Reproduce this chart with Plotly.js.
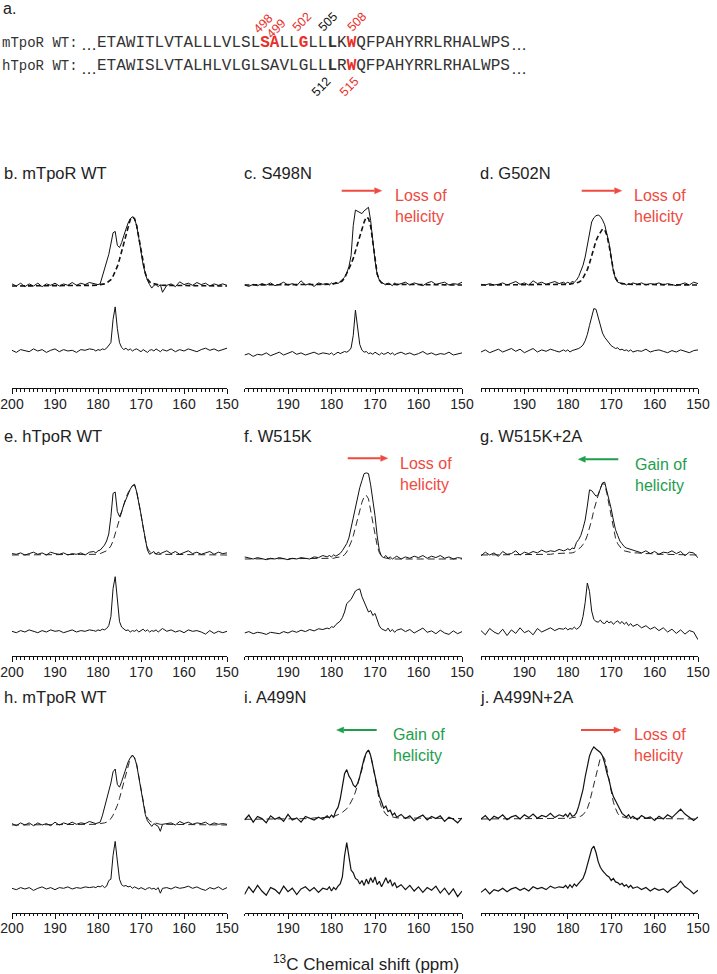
<!DOCTYPE html>
<html><head><meta charset="utf-8">
<script src="https://cdn.plot.ly/plotly-3.0.1.min.js"></script>
<style>html,body{margin:0;padding:0;background:#fff;}#chart{width:717px;height:974px;}</style>
</head><body><div id="chart"></div>
<script>
// ---------- DATA ----------
const ppm = [200,199,198,197,196,195,194,193,192,191,190,189,188,187,186,185,184,183,182,181,
 180.5,180,179.5,179,178.5,178,177.5,177,176.5,176,175.5,175,174.5,174,173.5,173,172.5,172,171.5,171,170.5,170,169.5,169,168.5,168,167.5,167,166.5,166,165.5,165,
 164,163,162,161,160,159,158,157,156,155,154,153,152,151,150];

const panelTitles = ['b. mTpoR WT','c. S498N','d. G502N','e. hTpoR WT','f. W515K','g. W515K+2A','h. mTpoR WT','i. A499N','j. A499N+2A'];
const trendLabels = ['', 'Loss of<br>helicity', 'Loss of<br>helicity', '', 'Loss of<br>helicity', 'Gain of<br>helicity', '', 'Gain of<br>helicity', 'Loss of<br>helicity'];
const tickValsFull = [200,190,180,170,160,150];
const tickValsShort = [190,180,170,160,150];
const xTitle = '<sup>13</sup>C Chemical shift (ppm)';

// b. mTpoR WT
const b_upper = [0.03,0.00,0.04,-0.01,0.03,0.00,0.04,-0.01,0.03,0.01,0.04,0.00,0.03,0.01,0.05,0.01,0.04,0.02,0.05,0.03,
 0.03,0.02,0.03,0.14,0.24,0.33,0.45,0.60,0.76,0.78,0.58,0.55,0.62,0.72,0.82,0.90,0.96,0.99,0.96,0.86,0.68,0.48,0.30,0.18,0.08,0.02,-0.03,0.01,0.02,-0.01,0.02,-0.09,
 0.01,0.03,-0.01,0.06,0.02,0.04,0.01,0.05,0.02,0.04,0.00,0.03,0.01,0.03,0.01];
const b_fit = [0,0,0,0,0,0,0,0,0,0,0,0,0,0,0,0,0.01,0.01,0.01,0.01,
 0.01,0.01,0.02,0.02,0.03,0.04,0.06,0.09,0.14,0.20,0.28,0.38,0.50,0.63,0.75,0.86,0.95,0.99,0.96,0.86,0.68,0.48,0.30,0.18,0.10,0.06,0.04,0.03,0.02,0.02,0.01,0.01,
 0.01,0.01,0.01,0,0,0,0,0,0,0,0,0,0,0,0];
const b_lower = [0.01,-0.02,0.02,0.00,-0.01,0.03,0.00,0.02,-0.02,0.01,0.03,-0.01,0.02,0.00,0.01,-0.02,0.02,0.01,0.03,0.02,
 0.00,0.02,0.01,0.03,0.02,0.04,0.08,0.12,0.45,0.63,0.32,0.12,0.05,0.02,0.04,0.01,0.03,0.00,0.02,0.03,0.01,-0.01,0.02,0.00,-0.02,0.01,0.02,0.00,0.03,0.01,-0.01,0.02,
 0.00,0.03,-0.01,0.02,0.00,0.03,0.01,-0.01,0.02,0.04,0.01,0.03,0.00,0.02,0.04];

// c. S498N
const c_upper = [0.00,-0.02,0.01,-0.01,0.02,0.00,0.03,-0.01,0.01,0.04,0.00,0.02,-0.01,0.06,0.00,0.02,-0.02,0.03,0.01,0.02,
 0.00,0.03,0.01,0.04,0.02,0.05,0.07,0.11,0.17,0.26,0.42,0.85,1.07,1.05,1.04,1.02,1.06,1.09,1.11,0.92,0.62,0.35,0.15,0.07,0.04,0.02,0.00,0.03,0.01,-0.01,0.03,0.00,
 0.02,0.04,0.00,0.03,0.01,-0.01,0.03,0.05,0.01,0.02,0.04,0.00,0.02,0.01,0.04];
const c_fit = [0,0,0,0,0,0,0,0,0,0,0,0,0,0,0,0,0,0,0,0,
 0.01,0.01,0.02,0.02,0.03,0.04,0.06,0.10,0.16,0.23,0.30,0.38,0.48,0.59,0.71,0.81,0.90,0.97,0.95,0.84,0.60,0.35,0.16,0.07,0.03,0.02,0.01,0.01,0.01,0.01,0.00,0.00,
 0,0,0,0,0,0,0,0,0,0,0,0,0,0,0];
const c_lower = [0.00,0.02,-0.02,0.01,0.00,0.03,-0.01,0.02,0.04,0.00,0.02,0.05,0.01,0.03,0.00,0.02,0.04,0.01,0.03,0.02,
 0.01,0.03,0.00,0.02,0.04,0.02,0.03,0.05,0.04,0.06,0.10,0.28,0.64,0.42,0.15,0.07,0.04,0.05,0.02,0.03,0.01,0.04,0.02,0.00,0.03,0.01,0.02,0.04,0.01,0.03,0.00,0.02,
 0.04,0.01,0.03,0.00,0.02,0.05,0.01,0.03,0.00,0.02,0.01,0.04,0.00,0.02,0.03];

// d. G502N
const d_upper = [0.01,0.00,0.02,0.00,0.01,0.03,0.00,0.02,0.05,0.01,0.03,0.00,0.06,0.02,0.04,0.01,0.03,0.05,0.02,0.04,
 0.02,0.04,0.02,0.05,0.04,0.07,0.12,0.19,0.28,0.40,0.58,0.77,0.90,0.96,0.99,1.00,0.98,0.93,0.86,0.73,0.60,0.40,0.20,0.09,0.04,0.03,0.01,0.02,0.00,0.02,0.01,0.03,
 0.01,0.03,0.00,0.02,0.01,0.03,0.00,0.02,0.01,-0.01,0.01,0.03,0.00,0.04,0.02];
const d_fit = [0,0,0,0,0,0,0,0,0,0,0,0,0,0,0,0,0.01,0.01,0.01,0.01,
 0.01,0.01,0.01,0.02,0.02,0.03,0.04,0.06,0.10,0.15,0.22,0.31,0.42,0.54,0.63,0.70,0.76,0.80,0.79,0.71,0.57,0.39,0.21,0.10,0.05,0.03,0.02,0.02,0.01,0.01,0.01,0.01,
 0.01,0.01,0,0,0,0,0,0,0,0,0,0,0,0,0];
const d_lower = [0.00,0.03,-0.01,0.02,0.04,0.00,0.03,0.05,0.01,0.04,-0.01,0.02,0.05,0.00,0.03,0.01,0.04,0.02,0.00,0.03,
 0.01,0.03,0.00,0.02,0.03,0.03,0.05,0.07,0.10,0.16,0.25,0.38,0.52,0.62,0.61,0.49,0.37,0.27,0.21,0.17,0.12,0.09,0.07,0.05,0.06,0.03,0.04,0.02,0.03,0.01,0.03,0.00,
 0.02,0.01,0.04,0.00,0.02,0.03,0.01,-0.01,0.02,0.00,0.03,0.01,-0.01,0.02,0.03];

// e. hTpoR WT
const e_upper = [0.02,0.01,0.03,0.00,0.02,0.04,0.01,0.03,0.00,0.04,0.02,0.01,0.03,0.00,0.02,0.01,0.03,0.00,0.04,0.05,
 0.03,0.06,0.07,0.10,0.14,0.20,0.30,0.55,0.88,0.90,0.62,0.55,0.62,0.72,0.80,0.88,0.94,0.99,1.01,0.90,0.76,0.58,0.40,0.22,0.07,0.01,0.03,0.05,0.01,0.04,0.02,0.03,
 0.06,0.02,0.05,0.01,0.03,0.06,0.02,0.04,0.01,0.03,0.05,0.01,0.04,0.02,0.03];
const e_fit = [0,0,0,0,0,0,0,0,0,0,0,0,0,0,0,0,0.01,0.01,0.01,0.01,
 0.01,0.01,0.02,0.03,0.04,0.06,0.09,0.13,0.20,0.30,0.40,0.50,0.62,0.73,0.82,0.89,0.95,0.99,1.00,0.90,0.75,0.56,0.38,0.22,0.10,0.05,0.03,0.02,0.02,0.01,0.01,0.01,
 0.01,0.01,0,0,0,0,0,0,0,0,0,0,0,0,0];
const e_lower = [0.01,-0.01,0.02,0.00,0.03,0.01,-0.01,0.02,0.00,0.03,0.01,0.02,-0.01,0.01,0.03,0.00,0.02,0.01,0.03,0.02,
 0.01,0.03,0.02,0.04,0.03,0.05,0.09,0.22,0.62,0.79,0.45,0.15,0.07,0.04,0.02,0.03,0.00,0.02,0.01,0.03,0.00,0.02,0.04,0.01,0.03,0.00,0.02,0.01,0.03,0.00,0.02,0.05,
 0.01,0.03,0.00,0.02,-0.01,0.03,0.01,0.02,0.00,-0.03,0.02,-0.02,0.01,-0.01,0.01];

// f. W515K
const f_upper = [0.03,0.01,0.00,0.02,0.00,-0.01,0.01,0.00,0.02,0.00,-0.01,0.01,0.00,0.02,0.01,0.00,0.03,0.02,0.05,0.03,
 0.05,0.03,0.06,0.04,0.06,0.08,0.12,0.17,0.22,0.30,0.45,0.60,0.76,0.92,1.02,1.12,1.22,1.23,1.22,1.06,0.86,0.62,0.33,0.12,0.04,0.02,0.05,0.01,0.03,0.00,0.02,0.04,
 0.00,0.03,0.01,0.04,0.02,0.05,0.01,0.04,0.02,0.05,0.01,0.03,0.00,0.02,0.01];
const f_fit = [0,0,0,0,0,0,0,0,0,0,0,0,0,0,0,0,0,0,0,0,
 0.01,0.01,0.01,0.02,0.02,0.03,0.04,0.06,0.10,0.16,0.24,0.33,0.45,0.58,0.70,0.81,0.89,0.91,0.86,0.70,0.52,0.35,0.19,0.09,0.04,0.02,0.01,0.01,0.00,0.00,0.00,0.00,
 0,0,0,0,0,0,0,0,0,0,0,0,0,0,0];
const f_lower = [0.00,0.02,-0.01,0.01,0.00,-0.02,0.01,0.00,-0.01,0.02,0.00,0.03,0.01,0.04,0.02,0.05,0.03,0.06,0.05,0.07,
 0.06,0.09,0.08,0.12,0.14,0.17,0.22,0.30,0.42,0.45,0.48,0.54,0.60,0.62,0.63,0.52,0.44,0.38,0.30,0.32,0.25,0.28,0.19,0.10,0.06,0.05,0.03,0.07,0.02,0.05,0.01,0.04,
 0.06,0.02,0.05,0.00,0.04,0.07,0.01,0.03,-0.01,0.04,0.00,-0.02,0.03,-0.01,0.02];

// g. W515K+2A
const g_upper = [-0.01,0.04,0.00,0.03,-0.02,0.05,0.01,0.02,0.06,0.00,0.04,0.02,0.05,0.03,0.07,0.04,0.06,0.05,0.08,0.06,
 0.07,0.09,0.07,0.10,0.09,0.18,0.22,0.28,0.38,0.50,0.70,0.93,0.92,0.88,0.84,0.86,0.95,1.03,1.04,0.92,0.80,0.66,0.50,0.36,0.28,0.20,0.16,0.12,0.10,0.09,0.07,0.06,
 0.05,0.03,0.06,0.02,0.05,0.01,0.04,0.03,0.06,0.02,0.05,-0.01,0.04,0.03,-0.04];
const g_fit = [0,0,0,0,0,0,0,0,0,0,0.01,0.01,0.01,0.01,0.01,0.01,0.01,0.02,0.02,0.02,
 0.02,0.02,0.03,0.03,0.04,0.06,0.08,0.11,0.15,0.20,0.28,0.38,0.50,0.64,0.76,0.87,0.96,1.02,1.01,0.88,0.72,0.54,0.36,0.24,0.16,0.11,0.08,0.06,0.05,0.04,0.04,0.03,
 0.03,0.02,0.02,0.02,0.01,0.01,0.01,0.01,0.01,0,0,0,0,0,0];
const g_lower = [0.02,-0.04,0.05,0.00,-0.03,0.04,-0.05,0.03,-0.02,0.06,-0.01,0.02,-0.04,0.05,0.00,0.03,0.06,0.02,0.05,0.04,
 0.06,0.03,0.05,0.04,0.07,0.04,0.06,0.10,0.22,0.42,0.70,0.58,0.30,0.18,0.15,0.14,0.17,0.13,0.12,0.16,0.13,0.15,0.11,0.14,0.16,0.12,0.15,0.11,0.14,0.09,0.12,0.08,
 0.11,0.06,0.09,0.04,0.07,0.02,0.06,0.00,0.04,-0.02,0.03,-0.03,0.02,0.00,-0.11];

// h. mTpoR WT
const h_upper = [0.02,-0.01,0.03,0.00,0.03,-0.01,0.03,0.00,0.02,-0.01,0.04,0.00,0.03,0.01,0.04,0.01,0.03,0.02,0.05,0.03,
 0.02,0.03,0.04,0.13,0.25,0.34,0.46,0.60,0.76,0.80,0.58,0.54,0.62,0.72,0.82,0.90,0.96,1.00,0.96,0.86,0.68,0.48,0.30,0.15,0.06,0.01,-0.02,0.02,0.00,-0.02,-0.09,0.01,
 0.02,0.03,0.00,0.05,0.02,0.04,0.01,0.03,0.02,0.04,0.00,0.03,0.01,0.02,0.01];
const h_fit = [0,0,0,0,0,0,0,0,0,0,0,0,0,0,0,0,0.01,0.01,0.01,0.01,
 0.01,0.01,0.02,0.02,0.03,0.04,0.06,0.09,0.14,0.20,0.28,0.38,0.50,0.63,0.75,0.86,0.95,0.99,0.96,0.86,0.68,0.48,0.30,0.18,0.10,0.06,0.04,0.03,0.02,0.02,0.01,0.01,
 0.01,0.01,0.01,0,0,0,0,0,0,0,0,0,0,0,0];
const h_lower = [0.01,-0.01,0.02,0.00,0.02,-0.02,0.01,0.03,0.00,0.02,-0.01,0.02,0.01,0.03,0.00,0.02,0.01,0.03,0.02,0.03,
 0.02,0.04,0.03,0.05,0.02,0.04,0.12,0.14,0.48,0.68,0.40,0.14,0.06,0.04,0.05,0.03,0.04,0.01,0.03,0.02,0.00,0.02,0.01,-0.01,0.01,0.02,0.00,0.01,-0.01,0.02,-0.06,0.01,
 0.02,0.00,0.03,0.01,0.02,0.04,0.01,0.03,0.00,-0.02,0.02,0.00,0.03,-0.01,0.02];

// i. A499N
const i_upper = [0.00,0.07,-0.03,0.05,0.02,-0.04,0.06,0.01,0.04,-0.02,0.08,0.00,0.03,-0.03,0.05,0.02,0.00,0.04,0.01,0.06,
 0.03,0.07,0.04,0.13,0.18,0.30,0.50,0.66,0.72,0.63,0.58,0.50,0.47,0.52,0.62,0.75,0.88,0.96,1.00,0.92,0.78,0.62,0.48,0.34,0.26,0.17,0.20,0.12,0.14,0.07,0.10,0.04,
 0.08,0.02,0.06,-0.01,0.04,0.07,0.00,0.05,0.02,0.06,-0.02,0.04,0.01,-0.04,0.03];
const i_fit = [0.01,0.01,0.01,0.01,0.01,0.01,0.01,0.01,0.01,0.01,0.02,0.02,0.02,0.02,0.02,0.02,0.03,0.03,0.03,0.03,
 0.04,0.04,0.05,0.06,0.07,0.09,0.11,0.13,0.16,0.20,0.25,0.32,0.40,0.50,0.60,0.72,0.85,0.96,1.00,0.93,0.78,0.60,0.42,0.28,0.18,0.12,0.08,0.06,0.05,0.04,0.04,0.03,
 0.03,0.03,0.02,0.02,0.02,0.02,0.02,0.02,0.02,0.02,0.02,0.02,0.02,0.02,0.02];
const i_lower = [-0.05,0.06,-0.02,0.08,0.00,-0.06,0.05,0.02,-0.04,0.07,-0.01,0.04,-0.05,0.03,0.06,0.00,0.05,-0.02,0.04,0.02,
 0.06,0.00,0.05,0.02,0.07,0.10,0.20,0.50,0.69,0.52,0.30,0.26,0.18,0.16,0.10,0.15,0.08,0.17,0.10,0.19,0.12,0.20,0.09,0.14,0.06,0.12,0.19,0.11,0.16,0.07,0.12,0.05,
 0.09,0.02,0.08,0.00,0.06,-0.02,0.05,0.01,0.07,-0.03,0.04,-0.05,0.03,-0.08,0.00];

// j. A499N+2A
const j_upper = [0.00,0.05,-0.02,0.04,0.01,0.06,-0.01,0.03,0.05,0.00,0.06,0.02,0.07,0.01,0.05,0.03,0.08,0.02,0.06,0.04,
 0.07,0.03,0.09,0.04,0.05,0.09,0.18,0.30,0.42,0.60,0.78,0.90,0.98,1.03,1.00,0.97,0.95,0.90,0.80,0.66,0.56,0.42,0.32,0.26,0.19,0.14,0.08,0.06,0.03,0.06,0.01,0.04,
 -0.01,0.05,0.01,0.03,-0.02,0.04,0.00,0.06,0.02,0.08,0.14,0.07,0.03,-0.02,0.03];
const j_fit = [0,0,0,0,0,0,0,0,0,0,0,0,0,0,0,0,0,0,0,0,
 0.01,0.01,0.01,0.02,0.02,0.02,0.03,0.04,0.06,0.10,0.15,0.24,0.36,0.48,0.62,0.76,0.87,0.90,0.86,0.72,0.55,0.38,0.24,0.15,0.08,0.04,0.03,0.02,0.02,0.01,0.01,0.01,
 0.01,0.01,0,0,0,0,0,0,0,0,0,0,0,0,0];
const j_lower = [-0.02,0.03,-0.04,0.02,0.00,0.04,-0.01,0.03,0.05,0.01,0.04,0.00,0.06,0.03,0.05,0.02,0.07,0.04,0.06,0.05,
 0.08,0.04,0.09,0.05,0.10,0.07,0.11,0.14,0.18,0.26,0.38,0.50,0.60,0.64,0.55,0.42,0.34,0.29,0.25,0.22,0.20,0.15,0.18,0.13,0.12,0.09,0.11,0.07,0.09,0.05,0.08,0.04,
 0.06,0.02,0.05,0.00,0.04,0.01,0.03,-0.02,0.04,0.07,0.14,0.06,0.02,-0.04,0.01];

const upperSeries = [b_upper,c_upper,d_upper,e_upper,f_upper,g_upper,h_upper,i_upper,j_upper];
const fitSeries   = [b_fit,c_fit,d_fit,e_fit,f_fit,g_fit,h_fit,i_fit,j_fit];
const lowerSeries = [b_lower,c_lower,d_lower,e_lower,f_lower,g_lower,h_lower,i_lower,j_lower];

// sequence panel (a.)
const mSeq = 'ETAWITLVTALLLVLSL<span style="color:#e8302a"><b>SA</b></span>LL<span style="color:#e8302a"><b>G</b></span>LL<b>L</b>K<span style="color:#e8302a"><b>W</b></span>QFPAHYRRLRHALWPS';
const hSeq = 'ETAWISLVTALHLVLGLSAVLGLL<b>L</b>R<span style="color:#e8302a"><b>W</b></span>QFPAHYRRLRHALWPS';
const residueLabels = ['498','499','502','505','508','512','515'];
const residueRed    = [true,true,true,false,true,false,true];

// ---------- LAYOUT / STYLE ----------
const W = 717, H = 974;
const PX = v => v / W, PY = v => 1 - v / H;
const colX = [[12,227],[244.5,462],[481,698]];
const axisRowY = [388, 656, 912.5];
const titleX = [2, 242, 478];
const titleY = [173, 436, 697];
const upperBase = [286,285,285,555,559,555,825,820,819];
const lowerBase = [351,355,352,632,633,632,889,891,891];
const unitPx = 70, yLo = -0.3, yHi = 1.4;
const RED = '#ee4a40', GREEN = '#1e9e4c';
// [head x, head y, text x, text y]
const trendPos = [null,[381.7,190.7,392.7,206],[621.7,190.7,631.7,206],null,[387.7,458.3,398.3,474],[578.3,459.3,632.7,475],null,[336.7,730,390.7,745],[621,730,632.3,745]];
const trendDir = [0,1,1,0,1,-1,0,-1,1];
const arrowLen = 40, headLen = 7, headHalf = 3;
const residuePos = [[263,24],[276,29],[302,22.5],[328,22.5],[357,22.5],[321,87],[349,87]];

const traces = [];
const layout = {
  width: W, height: H, margin: {l:0,r:0,t:0,b:0},
  paper_bgcolor: '#fff', plot_bgcolor: 'rgba(0,0,0,0)',
  showlegend: false, annotations: [], shapes: [], font: {family: 'Liberation Sans, Arial, sans-serif'}
};

for (let p = 0; p < 9; p++) {
  const col = p % 3, row = Math.floor(p / 3);
  const xn = p + 1, yu = 2*p + 1, yl = 2*p + 2;
  const xKey = xn === 1 ? 'xaxis' : 'xaxis' + xn;
  layout[xKey] = {
    domain: [PX(colX[col][0]), PX(colX[col][1])],
    range: [200, 150], autorange: false,
    anchor: 'free', position: PY(axisRowY[row]),
    showline: true, linecolor: '#111', linewidth: 1,
    ticks: 'outside', ticklen: 5, tickwidth: 1, tickcolor: '#111',
    tickmode: 'array', tickvals: col === 0 ? tickValsFull : tickValsShort,
    ticklabeloverflow: 'allow', ticklabelstandoff: -2,
    tickfont: {family: 'Liberation Sans, Arial, sans-serif', size: 14, color: '#222'},
    minor: {tickmode: 'linear', tick0: 150, dtick: 1, ticks: 'outside', ticklen: 2.5, tickcolor: '#111', showgrid: false},
    showgrid: false, zeroline: false, fixedrange: true
  };
  [[yu, upperBase[p]], [yl, lowerBase[p]]].forEach(([yi, base]) => {
    const yKey = yi === 1 ? 'yaxis' : 'yaxis' + yi;
    layout[yKey] = {
      domain: [PY(base - yLo*unitPx), PY(base - yHi*unitPx)],
      range: [yLo, yHi], autorange: false, visible: false,
      anchor: 'x' + (xn === 1 ? '' : xn), fixedrange: true
    };
  });
  const xa = 'x' + (xn === 1 ? '' : xn);
  const ya = 'y' + (yu === 1 ? '' : yu);
  const yb = 'y' + yl;
  const thickFit = row === 0;
  traces.push({x: ppm, y: fitSeries[p], xaxis: xa, yaxis: ya, mode: 'lines', hoverinfo: 'skip',
    line: {color: '#111', width: thickFit ? 1.6 : 0.9, dash: thickFit ? '5px,3px' : '7px,4px'}});
  traces.push({x: ppm, y: upperSeries[p], xaxis: xa, yaxis: ya, mode: 'lines', hoverinfo: 'skip',
    line: {color: '#111', width: (p >= 7) ? 1.2 : 1}});
  traces.push({x: ppm, y: lowerSeries[p], xaxis: xa, yaxis: yb, mode: 'lines', hoverinfo: 'skip',
    line: {color: '#111', width: (p >= 7) ? 1.2 : 1}});

  layout.annotations.push({xref:'paper', yref:'paper', x: PX(titleX[col]), y: PY(titleY[row]),
    xanchor:'left', yanchor:'middle', showarrow:false, text: panelTitles[p],
    font:{family:'Liberation Sans, Arial, sans-serif', size:16.5, color:'#222'}});

  if (trendPos[p]) {
    const [hx, hy, tx, ty] = trendPos[p];
    const d = trendDir[p];
    const c = d > 0 ? RED : GREEN;
    const tailX = hx - d*arrowLen, baseX = hx - d*headLen;
    layout.shapes.push({type:'line', xref:'paper', yref:'paper', x0: PX(tailX), x1: PX(baseX), y0: PY(hy), y1: PY(hy),
      line:{color:c, width:2}});
    layout.shapes.push({type:'path', xref:'paper', yref:'paper', fillcolor:c, line:{color:c, width:0.5},
      path: `M ${PX(hx)} ${PY(hy)} L ${PX(baseX)} ${PY(hy - headHalf)} L ${PX(baseX)} ${PY(hy + headHalf)} Z`});
    layout.annotations.push({xref:'paper', yref:'paper', x: PX(tx), y: PY(ty), xanchor:'left', yanchor:'middle',
      showarrow:false, align:'left', text: trendLabels[p], font:{family:'Liberation Sans, Arial, sans-serif', size:16, color:c}});
  }
}

// panel a
const A = layout.annotations;
A.push({xref:'paper', yref:'paper', x: PX(1), y: PY(9), xanchor:'left', yanchor:'middle', showarrow:false,
  text:'a.', font:{family:'Liberation Sans, Arial, sans-serif', size:16, color:'#222'}});
[['mTpoR WT:', 43, mSeq], ['hTpoR WT:', 66, hSeq]].forEach(([lab, y, seq]) => {
  A.push({xref:'paper', yref:'paper', x: PX(0), y: PY(y), xanchor:'left', yanchor:'middle', showarrow:false,
    text: lab, font:{family:'Liberation Mono, monospace', size:14, color:'#333'}});
  A.push({xref:'paper', yref:'paper', x: PX(79), y: PY(y+2), xanchor:'left', yanchor:'middle', showarrow:false,
    text: '…', font:{family:'Liberation Sans, Arial, sans-serif', size:16, color:'#222'}});
  A.push({xref:'paper', yref:'paper', x: PX(95), y: PY(y), xanchor:'left', yanchor:'middle', showarrow:false,
    text: seq, font:{family:'Liberation Mono, monospace', size:16, color:'#333'}});
  A.push({xref:'paper', yref:'paper', x: PX(509), y: PY(y+2), xanchor:'left', yanchor:'middle', showarrow:false,
    text: '…', font:{family:'Liberation Sans, Arial, sans-serif', size:16, color:'#222'}});
});
residueLabels.forEach((t, k) => {
  A.push({xref:'paper', yref:'paper', x: PX(residuePos[k][0]), y: PY(residuePos[k][1]), xanchor:'center', yanchor:'middle',
    showarrow:false, textangle:-45, text: t,
    font:{family:'Liberation Sans, Arial, sans-serif', size:12.5, color: residueRed[k] ? '#e8302a' : '#111'}});
});
// shared x-axis title
A.push({xref:'paper', yref:'paper', x: PX(366), y: PY(963), xanchor:'center', yanchor:'middle', showarrow:false,
  text: xTitle, font:{family:'Liberation Sans, Arial, sans-serif', size:17, color:'#222'}});

Plotly.newPlot('chart', traces, layout, {displayModeBar:false, staticPlot:true});
</script>
</body></html>
